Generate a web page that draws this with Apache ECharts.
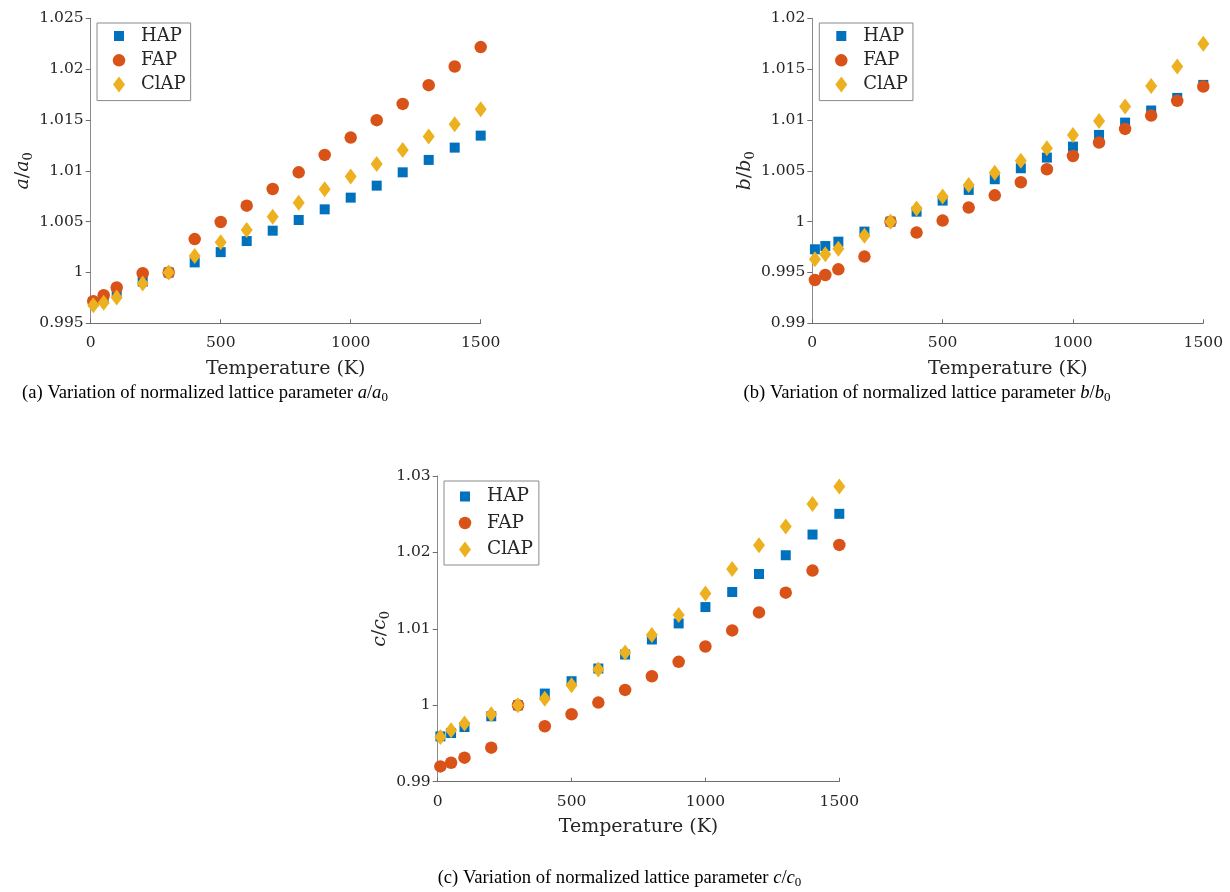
<!DOCTYPE html>
<html>
<head>
<meta charset="utf-8">
<script src="https://cdn.jsdelivr.net/npm/echarts@6/dist/echarts.min.js"></script>
<style>
html,body{margin:0;padding:0;background:#fff;}
#chart{width:1230px;height:892px;}
</style>
</head>
<body>
<div id="chart"></div>
<script>
// ---- data ----
const temps = [10, 50, 100, 200, 300, 400, 500, 600, 700, 800, 900, 1000, 1100, 1200, 1300, 1400, 1500];
const seriesNames = ['HAP', 'FAP', 'ClAP'];
const xTicks = [0, 500, 1000, 1500];

const aHAP  = [0.9971, 0.9975, 0.9981, 0.9991, 1.0000, 1.00099, 1.00200, 1.00309, 1.00411, 1.00516, 1.00621, 1.00736, 1.00854, 1.00985, 1.01107, 1.01228, 1.01346];
const aFAP  = [0.99718, 0.99777, 0.99852, 0.99993, 1.0000, 1.00328, 1.00496, 1.00657, 1.00821, 1.00985, 1.01156, 1.01327, 1.01498, 1.01658, 1.01842, 1.02026, 1.02217];
const aClAP = [0.99678, 0.99701, 0.99754, 0.99892, 1.0000, 1.00161, 1.00296, 1.00417, 1.00548, 1.00686, 1.00818, 1.00943, 1.01067, 1.01205, 1.01337, 1.01458, 1.01606];

const bHAP  = [0.99728, 0.99760, 0.99803, 0.99902, 1.0000, 1.00098, 1.00207, 1.00312, 1.00417, 1.00525, 1.00630, 1.00738, 1.00853, 1.00974, 1.01093, 1.01217, 1.01345];
const bFAP  = [0.99426, 0.99475, 0.99531, 0.99656, 1.0000, 0.99892, 1.00010, 1.00138, 1.00259, 1.00387, 1.00515, 1.00646, 1.00778, 1.00912, 1.01043, 1.01188, 1.01329];
const bClAP = [0.99629, 0.99678, 0.99734, 0.99862, 1.0000, 1.00128, 1.00246, 1.00361, 1.00482, 1.00600, 1.00722, 1.00853, 1.00991, 1.01132, 1.01335, 1.01526, 1.01749];

const cHAP  = [0.99593, 0.99637, 0.99716, 0.99856, 1.0000, 1.00153, 1.00315, 1.00481, 1.00664, 1.00861, 1.01071, 1.01285, 1.01482, 1.01718, 1.01963, 1.02234, 1.02505];
const cFAP  = [0.99200, 0.99248, 0.99314, 0.99445, 1.0000, 0.99725, 0.99882, 1.00035, 1.00201, 1.00380, 1.00568, 1.00769, 1.00979, 1.01215, 1.01473, 1.01762, 1.02098];
const cClAP = [0.99585, 0.99672, 0.99760, 0.99882, 1.0000, 1.00087, 1.00262, 1.00468, 1.00691, 1.00918, 1.01180, 1.01464, 1.01784, 1.02094, 1.02339, 1.02632, 1.02863];

const yRanges = [[0.995, 1.025, 0.005], [0.99, 1.02, 0.005], [0.99, 1.03, 0.01]];
const yNames = ['a', 'b', 'c'];
const captions = [
  '(a) Variation of normalized lattice parameter {i|a}/{i|a}{s|0}',
  '(b) Variation of normalized lattice parameter {i|b}/{i|b}{s|0}',
  '(c) Variation of normalized lattice parameter {i|c}/{i|c}{s|0}'
];

// ---- styles ----
const colors = ['#0072BD', '#D95319', '#EDB120'];
const symbols = ['rect', 'circle', 'diamond'];
const symSizes = [10, 12.5, [12, 16]];
const legendIcons = [
  'path://M0,0M3,3h10v10h-10zM16,16',
  'path://M0,0M1.75,8a6.25,6.25 0 1,0 12.5,0a6.25,6.25 0 1,0 -12.5,0zM16,16',
  'path://M0,0M8,0L14,8L8,16L2,8zM16,16'
];
const serif = 'DejaVu Serif';
const txt = '#262626';

const grids = [
  {left: 90.7, top: 18.3, width: 390, height: 305},
  {left: 812.3, top: 18.3, width: 391, height: 305},
  {left: 437.7, top: 476, width: 401.6, height: 305.7}
];
const yNameGap = [52, 52, 42];
const legendPos = [
  {left: 97, top: 23},
  {left: 819.3, top: 23},
  {left: 444, top: 481}
];

function fmtY(v) {
  let s = v.toFixed(3);
  s = s.replace(/0+$/, '').replace(/\.$/, '');
  return s;
}
function fmtX(v) { return String(Math.round(v)); }

const dataSets = [[aHAP, aFAP, aClAP], [bHAP, bFAP, bClAP], [cHAP, cFAP, cClAP]];

const option = {
  animation: false,
  backgroundColor: '#fff',
  grid: grids.map(g => Object.assign({containLabel: false}, g)),
  xAxis: grids.map((g, i) => ({
    gridIndex: i, type: 'value', min: xTicks[0], max: xTicks[xTicks.length - 1], interval: 500,
    name: 'Temperature (K)', nameLocation: 'middle', nameGap: 36,
    nameTextStyle: {fontFamily: serif, fontSize: 19, color: txt},
    axisLine: {show: true, lineStyle: {color: '#6e6e6e', width: 1}},
    axisTick: {show: true, inside: true, length: 4, lineStyle: {color: '#6e6e6e'}},
    axisLabel: {fontFamily: serif, fontSize: 15.5, color: txt, margin: 12, formatter: fmtX},
    splitLine: {show: false}
  })),
  yAxis: grids.map((g, i) => ({
    gridIndex: i, type: 'value', min: yRanges[i][0], max: yRanges[i][1], interval: yRanges[i][2],
    name: '{i|' + yNames[i] + '}/{i|' + yNames[i] + '}{s|0}',
    nameLocation: 'middle', nameGap: yNameGap[i], nameRotate: 90,
    nameTextStyle: {
      fontFamily: serif, fontSize: 19, color: txt,
      rich: {
        i: {fontFamily: serif, fontStyle: 'italic', fontSize: 19, color: txt, lineHeight: 24},
        s: {fontFamily: serif, fontSize: 13, color: txt, lineHeight: 12, verticalAlign: 'bottom'}
      }
    },
    axisLine: {show: true, lineStyle: {color: '#8a8a8a', width: 1}},
    axisTick: {show: true, inside: false, length: 5, lineStyle: {color: '#6e6e6e'}},
    axisLabel: {fontFamily: serif, fontSize: 15.5, color: txt, margin: 7, formatter: fmtY},
    splitLine: {show: false}
  })),
  legend: grids.map((g, i) => ({
    orient: 'vertical',
    left: legendPos[i].left, top: legendPos[i].top,
    backgroundColor: '#fff', borderColor: '#8a8a8a', borderWidth: 1,
    padding: i === 2 ? [6, 6, 6, 13] : [4, 5, 7, 14],
    itemWidth: 16, itemHeight: 16, itemGap: i === 2 ? 7.5 : 6.3,
    selectedMode: false,
    textStyle: {fontFamily: serif, fontSize: i === 2 ? 18.5 : 18, color: txt, lineHeight: 16, padding: [0, 0, 0, 9]},
    data: seriesNames.map((n, k) => ({name: n, icon: legendIcons[k], itemStyle: {color: colors[k]}}))
  })),
  series: [],
  graphic: captions.map((c, i) => ({
    type: 'text',
    x: [205, 927, 619.5][i], y: [393, 393, 878][i],
    style: {
      text: c, align: 'center', verticalAlign: 'middle',
      fontFamily: 'Liberation Serif', fontSize: 18.6, fill: '#000',
      rich: {
        i: {fontFamily: 'Liberation Serif', fontStyle: 'italic', fontSize: 18.6, fill: '#000', lineHeight: 22},
        s: {fontFamily: 'Liberation Serif', fontSize: 13, fill: '#000', lineHeight: 10, verticalAlign: 'bottom'}
      }
    }
  }))
};

dataSets.forEach((set, gi) => {
  set.forEach((vals, k) => {
    option.series.push({
      name: seriesNames[k], type: 'scatter', xAxisIndex: gi, yAxisIndex: gi,
      symbol: symbols[k], symbolSize: symSizes[k],
      itemStyle: {color: colors[k], opacity: 1},
      data: temps.map((t, j) => [t, vals[j]])
    });
  });
});

const chart = echarts.init(document.getElementById('chart'), null, {renderer: 'canvas'});
chart.setOption(option);
</script>
</body>
</html>
